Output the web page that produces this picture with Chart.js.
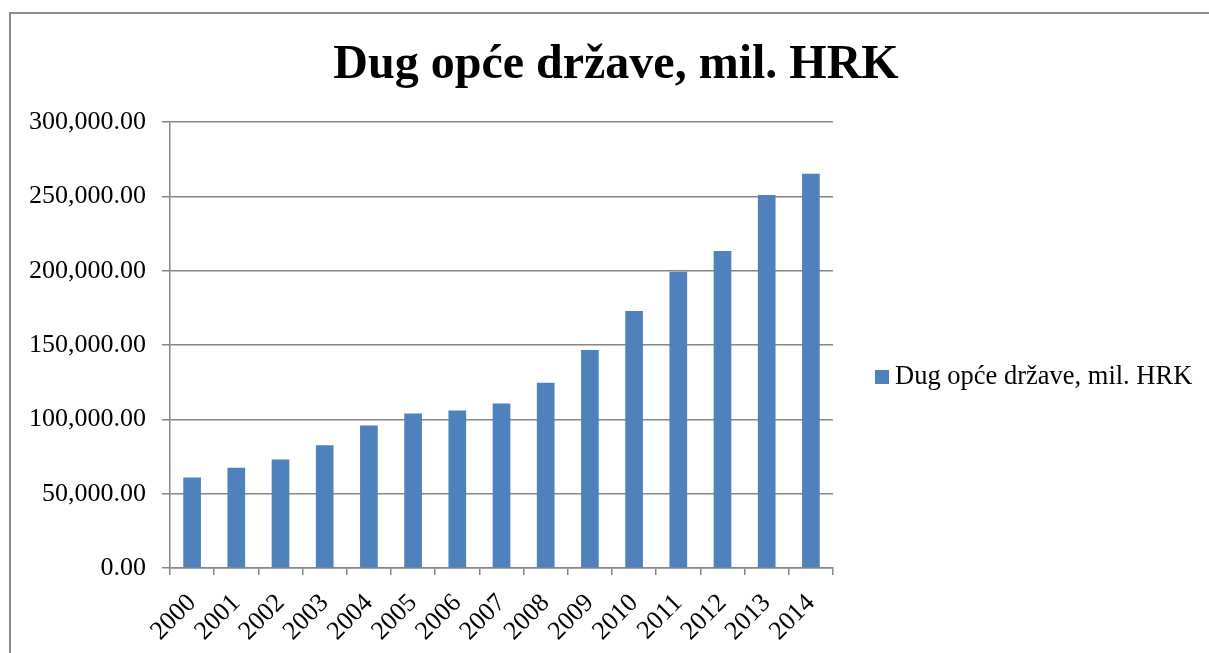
<!DOCTYPE html>
<html>
<head>
<meta charset="utf-8">
<script src="https://cdn.jsdelivr.net/npm/chart.js@4.4.1/dist/chart.umd.min.js"></script>
<style>
html,body{margin:0;padding:0;background:#ffffff;}
#wrap{width:1209px;height:653px;position:relative;overflow:hidden;}
canvas{display:block;}
</style>
</head>
<body>
<div id="wrap"><canvas id="c" width="1209" height="653"></canvas></div>
<script>
const categories = ['2000','2001','2002','2003','2004','2005','2006','2007','2008','2009','2010','2011','2012','2013','2014'];
const debtValues = [60900, 67400, 73000, 82600, 95900, 104000, 106000, 110700, 124700, 146700, 172900, 199300, 213300, 251000, 265200];
const yTickValues = [0, 50000, 100000, 150000, 200000, 250000, 300000];
const seriesLabel = 'Dug opće države, mil. HRK';
const chartTitle = 'Dug opće države, mil. HRK';

const BAR_COLOR = '#4F81BD';
const GRID_COLOR = '#868686';
const FONT = "'Liberation Serif', 'Times New Roman', serif";

const framePlugin = {
  id: 'frame',
  beforeDraw(chart) {
    const ctx = chart.ctx;
    ctx.save();
    ctx.fillStyle = '#ffffff';
    ctx.fillRect(0, 0, chart.width, chart.height);
    ctx.strokeStyle = '#8a8a8a';
    ctx.lineWidth = 2;
    ctx.beginPath();
    ctx.moveTo(10, chart.height + 2);
    ctx.lineTo(10, 13);
    ctx.lineTo(chart.width + 2, 13);
    ctx.stroke();
    ctx.restore();
  }
};

const legendPlugin = {
  id: 'customLegend',
  afterDraw(chart) {
    const ctx = chart.ctx;
    const ds = chart.data.datasets[0];
    const x0 = chart.chartArea.right + 42;
    const baseY = 384;
    ctx.save();
    ctx.fillStyle = ds.backgroundColor;
    ctx.fillRect(x0, baseY - 14, 14, 14);
    ctx.fillStyle = '#000000';
    ctx.font = "26.5px " + FONT;
    ctx.textBaseline = 'alphabetic';
    ctx.textAlign = 'left';
    ctx.fillText(ds.label, x0 + 20, baseY);
    ctx.restore();
  }
};

new Chart(document.getElementById('c'), {
  type: 'bar',
  data: {
    labels: categories,
    datasets: [{
      label: seriesLabel,
      data: debtValues,
      backgroundColor: BAR_COLOR,
      borderWidth: 0,
      barPercentage: 0.4,
      categoryPercentage: 1.0
    }]
  },
  options: {
    responsive: false,
    animation: false,
    devicePixelRatio: 1,
    layout: { padding: { left: 23, right: 0, top: 0, bottom: 0 } },
    plugins: {
      legend: { display: false },
      tooltip: { enabled: false },
      title: {
        display: true,
        text: chartTitle,
        color: '#000000',
        font: { family: FONT, size: 48, weight: 'bold', lineHeight: 1.2 },
        padding: { top: 36.5, bottom: 28 }
      }
    },
    scales: {
      x: {
        type: 'category',
        offset: true,
        grid: {
          display: true,
          offset: true,
          drawOnChartArea: false,
          drawTicks: true,
          tickLength: 7,
          color: GRID_COLOR,
          lineWidth: 1.5
        },
        border: { display: true, color: GRID_COLOR, width: 1.5 },
        ticks: {
          autoSkip: false,
          minRotation: 45,
          maxRotation: 45,
          color: '#000000',
          padding: 13,
          font: { family: FONT, size: 26 }
        },
        afterFit(scale) { scale.height = 85; }
      },
      y: {
        position: 'left',
        min: 0,
        max: 300000,
        afterBuildTicks(scale) { scale.ticks = yTickValues.map(v => ({ value: v })); },
        grid: {
          color: GRID_COLOR,
          lineWidth: 1.5,
          drawTicks: true,
          tickLength: 8
        },
        border: { display: true, color: GRID_COLOR, width: 1.5 },
        ticks: {
          color: '#000000',
          padding: 16,
          font: { family: FONT, size: 26 },
          callback: (v) => Number(v).toLocaleString('en-US', { minimumFractionDigits: 2, maximumFractionDigits: 2 })
        },
        afterFit(scale) { scale.width = 147; }
      },
      legendSpace: {
        type: 'linear',
        position: 'right',
        display: true,
        grid: { display: false, drawTicks: false },
        border: { display: false },
        ticks: { display: false },
        afterFit(scale) { scale.width = 376; }
      }
    }
  },
  plugins: [framePlugin, legendPlugin]
});
</script>
</body>
</html>
